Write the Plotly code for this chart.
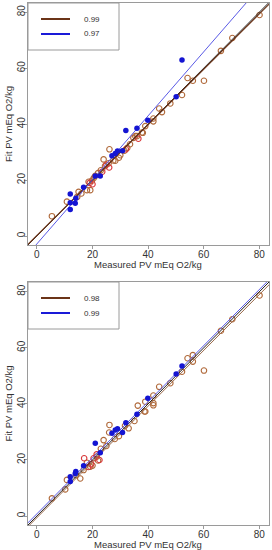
import plotly.graph_objects as go

# ---------------- data ----------------
# Panel 1 (top)
top_open_x = [80.1, 70.3, 66.2, 54.2, 56.1, 60.1, 52.2, 48.0, 44.0, 45.0, 41.9, 41.9, 39.0, 37.8,
              36.0, 34.7, 38.1, 35.4, 26.1, 25.8, 24.0, 28.2, 30.0, 27.5, 29.5, 31.5, 32.5, 33.5,
              19.2, 18.0, 15.0, 19.8, 18.6, 10.8, 5.4, 22.0, 23.0, 24.5, 21.0, 16.0, 14.5, 20.5]
top_open_y = [79.0, 70.8, 66.2, 56.5, 55.5, 55.5, 50.4, 47.4, 45.6, 44.3, 42.0, 41.0, 39.3, 37.0,
              35.7, 35.1, 36.9, 35.7, 31.0, 26.0, 27.4, 26.9, 28.9, 27.0, 28.0, 30.5, 31.5, 32.8,
              16.4, 16.4, 15.8, 19.8, 19.4, 12.3, 7.1, 22.5, 23.5, 25.0, 21.5, 15.2, 14.0, 20.8]
top_red_x = [25.0, 26.0, 19.0, 20.0, 23.5, 36.5, 32.0]
top_red_y = [25.5, 24.5, 19.0, 18.5, 23.0, 34.8, 31.0]
top_blue_x = [52.2, 50.1, 39.9, 36.0, 32.0, 30.8, 29.0, 28.2, 27.0, 21.0, 22.8, 16.8, 12.0, 12.0,
              13.8, 12.0, 14.0]
top_blue_y = [62.9, 49.8, 41.4, 38.5, 37.7, 30.5, 30.4, 29.5, 28.7, 21.5, 21.5, 17.4, 15.0, 11.9,
              11.7, 9.5, 13.5]

# Panel 2 (bottom)
bot_open_x = [80.1, 70.3, 66.2, 54.2, 56.1, 56.1, 60.1, 52.2, 48.0, 44.0, 41.9, 41.9, 41.9, 36.3,
              39.0, 39.0, 38.7, 35.1, 33.0, 31.7, 26.1, 26.0, 24.0, 21.5, 22.0, 19.2, 16.8, 15.6,
              10.8, 10.2, 5.4, 14.1, 28.0, 29.5, 25.0, 23.0, 18.0, 20.0]
bot_open_y = [78.7, 70.2, 66.1, 56.3, 57.4, 55.1, 51.9, 51.5, 47.4, 46.1, 43.0, 40.3, 39.5, 39.4,
              40.8, 37.3, 37.3, 33.9, 31.3, 32.2, 32.5, 29.8, 27.1, 21.2, 19.8, 17.6, 16.4, 13.4,
              12.9, 9.5, 6.3, 14.6, 27.5, 28.5, 25.0, 24.0, 19.0, 18.0]
bot_red_x = [17.0, 20.4, 19.5, 21.5, 18.5, 22.5]
bot_red_y = [20.6, 20.6, 18.5, 22.0, 17.5, 20.0]
bot_blue_x = [52.2, 50.1, 39.9, 36.0, 32.0, 30.8, 29.0, 28.2, 27.0, 21.0, 22.8, 16.8, 13.8, 14.0,
              12.0, 12.0]
bot_blue_y = [53.5, 50.7, 42.0, 36.3, 33.3, 29.8, 31.1, 30.7, 29.5, 26.0, 22.6, 17.9, 15.2, 15.9,
              14.0, 12.3]

# fit lines: (slope, intercept)
top_fit_brown = (0.99, 0.2)
top_fit_blue = (1.144, -2.8)
bot_fit_brown = (0.995, -0.6)
bot_fit_blue = (1.0, 0.8)
identity = (1.0, 0.0)

legend_top = ["0.99", "0.97"]
legend_bot = ["0.98", "0.99"]
tick_vals = [0, 20, 40, 60, 80]

BROWN_PT = "#b0693a"
RED_PT = "#d8383a"
BLUE_PT = "#1414d2"
BROWN_LN = "#6b3418"
BLUE_LN = "#5a5ae6"

fig = go.Figure()

line_x = [-10, 100]

def add_line(coef, color, width, xa, ya):
    m, b = coef
    fig.add_trace(go.Scatter(x=line_x, y=[m * v + b for v in line_x], mode="lines",
                             line=dict(color=color, width=width), xaxis=xa, yaxis=ya,
                             showlegend=False, hoverinfo="skip"))

def add_pts(xs, ys, color, filled, xa, ya):
    if filled:
        mk = dict(symbol="circle", size=5.5, color=color, line=dict(width=0))
    else:
        mk = dict(symbol="circle-open", size=5.5, color=color, line=dict(width=1.1, color=color))
    fig.add_trace(go.Scatter(x=xs, y=ys, mode="markers", marker=mk, xaxis=xa, yaxis=ya,
                             showlegend=False, hoverinfo="skip"))

# top panel
add_pts(top_open_x, top_open_y, BROWN_PT, False, "x", "y")
add_pts(top_red_x, top_red_y, RED_PT, False, "x", "y")
add_line(identity, "#222222", 1.0, "x", "y")
add_line(top_fit_brown, BROWN_LN, 1.2, "x", "y")
add_line(top_fit_blue, BLUE_LN, 1.0, "x", "y")
add_pts(top_blue_x, top_blue_y, BLUE_PT, True, "x", "y")

# bottom panel
add_pts(bot_open_x, bot_open_y, BROWN_PT, False, "x2", "y2")
add_pts(bot_red_x, bot_red_y, RED_PT, False, "x2", "y2")
add_line(identity, "#222222", 1.0, "x2", "y2")
add_line(bot_fit_brown, "#9a6a4a", 1.0, "x2", "y2")
add_line(bot_fit_blue, BLUE_LN, 1.0, "x2", "y2")
add_pts(bot_blue_x, bot_blue_y, BLUE_PT, True, "x2", "y2")

W, H = 272, 550
def px(x):
    return x / W
def py(y):
    return 1 - y / H

axis_common = dict(showgrid=False, zeroline=False, showline=True, mirror=True,
                   linecolor="#9a9a9a", linewidth=1, ticks="outside", ticklen=3,
                   tickcolor="#9a9a9a", tickvals=tick_vals,
                   tickfont=dict(family="Liberation Sans, Arial", size=10, color="#333333"))

layout = dict(
    width=W, height=H, margin=dict(l=0, r=0, t=0, b=0),
    paper_bgcolor="white", plot_bgcolor="white", showlegend=False,
    xaxis=dict(domain=[px(28), px(269)], range=[-3.2, 83.5], anchor="y",
               ticklabelstandoff=-3, **axis_common),
    yaxis=dict(domain=[py(245), py(3)], range=[-3.2, 83.3], anchor="x", tickangle=-90,
               ticklabelstandoff=-5, **axis_common),
    xaxis2=dict(domain=[px(28), px(269)], range=[-3.2, 83.5], anchor="y2",
                ticklabelstandoff=-3, **axis_common),
    yaxis2=dict(domain=[py(525), py(282)], range=[-3.2, 83.5], anchor="x2", tickangle=-90,
                ticklabelstandoff=-5, **axis_common),
)
fig.update_layout(**layout)

shapes = []
annotations = []
font_t = dict(family="Liberation Sans, Arial", size=9.5, color="#333333")
for (ytop, ybot, labels, c1) in [(3, 245, legend_top, BROWN_LN), (282, 525, legend_bot, BROWN_LN)]:
    # legend box
    shapes.append(dict(type="rect", xref="paper", yref="paper", x0=px(28), x1=px(119),
                       y0=py(ytop + 47), y1=py(ytop), line=dict(color="#9a9a9a", width=1),
                       fillcolor="white", layer="above"))
    for i, (lab, col) in enumerate(zip(labels, [c1, "#1a1ad8"])):
        yy = ytop + 16 + 15 * i
        shapes.append(dict(type="line", xref="paper", yref="paper", x0=px(41), x1=px(70),
                           y0=py(yy), y1=py(yy), line=dict(color=col, width=2), layer="above"))
        annotations.append(dict(text=lab, xref="paper", yref="paper", x=px(82), y=py(yy),
                                xanchor="left", yanchor="middle", showarrow=False,
                                font=dict(family="Liberation Sans, Arial", size=8, color="#333333")))
    # axis titles
    annotations.append(dict(text="Measured PV mEq O2/kg", xref="paper", yref="paper",
                            x=px(148), y=py(ybot + 19.5), xanchor="center", yanchor="middle",
                            showarrow=False, font=font_t))
    annotations.append(dict(text="Fit PV mEq O2/kg", xref="paper", yref="paper",
                            x=px(8), y=py((ytop + ybot) / 2), xanchor="center", yanchor="middle",
                            textangle=-90, showarrow=False, font=font_t))

fig.update_layout(shapes=shapes, annotations=annotations)
fig.write_html("out.html", config={"displayModeBar": False},
               post_script="document.body.style.margin='0';document.body.style.padding='0';")
